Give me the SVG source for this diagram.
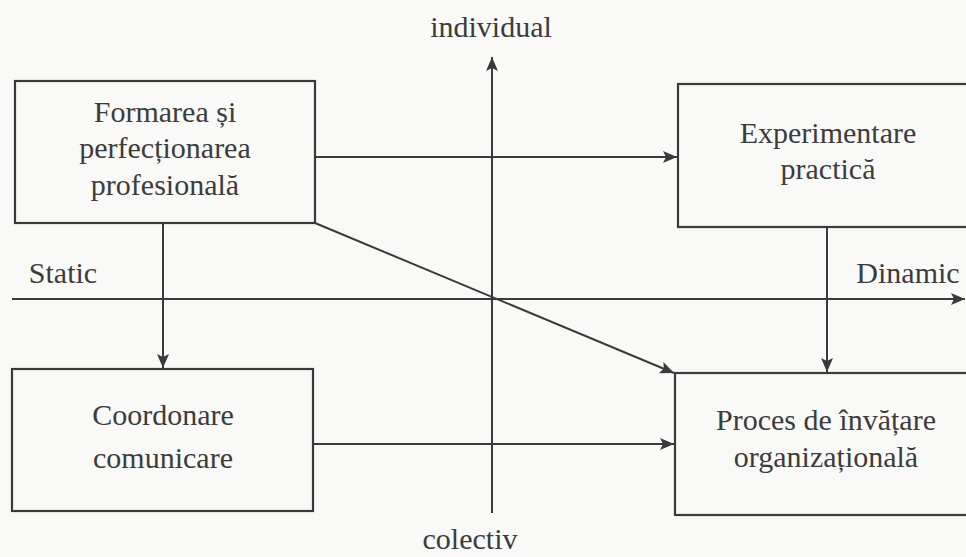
<svg xmlns="http://www.w3.org/2000/svg" width="966" height="557" viewBox="0 0 966 557">
<defs>
<style>
.box{fill:none;stroke:#3a3a3a;stroke-width:2.2}
.ln{fill:none;stroke:#3a3a3a;stroke-width:2}
text{font-family:"Liberation Serif","Times New Roman",serif;font-size:30px;fill:#3c3c3c;text-anchor:middle}
</style>
<marker id="ah" viewBox="0 0 14 12" refX="14" refY="6" markerWidth="14" markerHeight="12" markerUnits="userSpaceOnUse" orient="auto">
<path d="M0,0 L14,6 L0,12 L3,6 Z" fill="#3a3a3a"/>
</marker>
</defs>
<rect width="966" height="557" fill="#f9f9f7"/>
<g id="axes">
<line class="ln" x1="12" y1="299" x2="965" y2="299" marker-end="url(#ah)"/>
<line class="ln" x1="492" y1="513" x2="492" y2="57" marker-end="url(#ah)"/>
<text x="491" y="37">individual</text>
<text x="470" y="549">colectiv</text>
<text x="63" y="283">Static</text>
<text x="908" y="283">Dinamic</text>
</g>
<g id="connectors">
<line class="ln" x1="315" y1="157" x2="677" y2="157" marker-end="url(#ah)"/>
<line class="ln" x1="163" y1="223" x2="163" y2="368" marker-end="url(#ah)"/>
<line class="ln" x1="315" y1="223" x2="674" y2="373" marker-end="url(#ah)"/>
<line class="ln" x1="827" y1="227" x2="827" y2="372" marker-end="url(#ah)"/>
<line class="ln" x1="313" y1="444" x2="674" y2="444" marker-end="url(#ah)"/>
</g>
<g id="formarea">
<rect class="box" x="15" y="81" width="300" height="142"/>
<text x="165" y="122">Formarea și</text>
<text x="165" y="158">perfecționarea</text>
<text x="165" y="195">profesională</text>
</g>
<g id="experimentare">
<rect class="box" x="678" y="84" width="300" height="143"/>
<text x="828" y="143">Experimentare</text>
<text x="828" y="179">practică</text>
</g>
<g id="coordonare">
<rect class="box" x="12" y="369" width="301" height="142"/>
<text x="163" y="425">Coordonare</text>
<text x="163" y="468">comunicare</text>
</g>
<g id="proces">
<rect class="box" x="675" y="373" width="305" height="142"/>
<text x="826" y="430">Proces de învățare</text>
<text x="826" y="467">organizațională</text>
</g>
</svg>
